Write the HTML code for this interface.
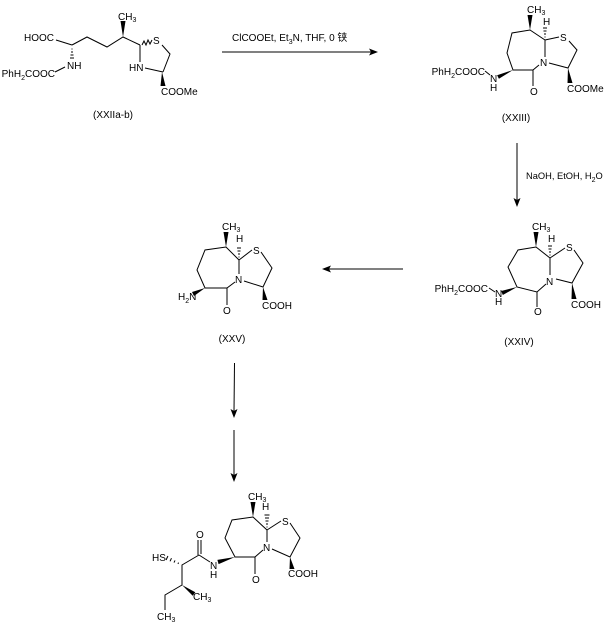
<!DOCTYPE html>
<html><head><meta charset="utf-8"><style>
html,body{margin:0;padding:0;background:#fff;}
svg{display:block;}
text{font-family:"Liberation Sans","Noto Sans CJK SC",sans-serif;font-size:10px;fill:#000;}
.s{font-size:7px;}
</style></head><body>
<svg width="610" height="629" viewBox="0 0 610 629" xmlns="http://www.w3.org/2000/svg">
<g stroke="#000" stroke-width="1" fill="none">
<!-- Top-left molecule -->
<line x1="56" y1="40" x2="72" y2="45"/>
<polyline points="72,45 87,37 107,47 123,37 140,45"/>
<line x1="55" y1="72" x2="65" y2="67"/>
<line x1="140" y1="45" x2="140" y2="62"/>
<polyline points="142,45 144,41 146,45 148,40 150,44 152,40"/>
<polyline points="162,45 170,54 163,72"/>
<line x1="145" y1="68" x2="163" y2="72"/>
<line x1="71.5" y1="49" x2="72.5" y2="49"/><line x1="71" y1="52" x2="73" y2="52"/><line x1="70.5" y1="55" x2="73.5" y2="55"/><line x1="70" y1="58" x2="74" y2="58"/>
<!-- top arrow -->
<line x1="222" y1="52" x2="372" y2="52"/>
<!-- XXIII -->
<polyline points="545,40 530,30 512,33 507,53 513,70 533,70 539,65"/>
<line x1="545" y1="40" x2="559" y2="37"/>
<polyline points="569,41 577,50 568,68 549,63"/>
<line x1="545" y1="57" x2="545" y2="40"/>
<line x1="533" y1="70" x2="533" y2="86"/>
<line x1="485" y1="71" x2="490" y2="75"/>
<line x1="544.5" y1="37" x2="545.5" y2="37"/><line x1="544" y1="34" x2="546" y2="34"/><line x1="543.5" y1="31" x2="546.5" y2="31"/><line x1="543" y1="28" x2="547" y2="28"/>
<!-- arrow down -->
<line x1="517" y1="143" x2="517" y2="201"/>
<!-- XXIV -->
<polyline points="550,258 536,247 518,250 508,267 517,287 537,292 546,284"/>
<line x1="550" y1="258" x2="565" y2="248"/>
<polyline points="574,250 583,263 572,283 556,279"/>
<line x1="550" y1="275" x2="550" y2="258"/>
<line x1="537" y1="292" x2="537" y2="307"/>
<line x1="489" y1="288" x2="495" y2="292"/>
<line x1="549.5" y1="255" x2="550.5" y2="255"/><line x1="549" y1="252" x2="551" y2="252"/><line x1="548.5" y1="249" x2="551.5" y2="249"/><line x1="548" y1="246" x2="552" y2="246"/>
<!-- horizontal arrow -->
<line x1="328" y1="269" x2="403" y2="269"/>
<!-- XXV -->
<polyline points="239,260 226,247 205,250 197,270 205,288 227,288 235,282"/>
<line x1="239" y1="260" x2="252" y2="250"/>
<polyline points="261,252 272,268 263,287 244,281"/>
<line x1="239" y1="274" x2="239" y2="260"/>
<line x1="227" y1="288" x2="227" y2="305"/>
<line x1="238.5" y1="257" x2="239.5" y2="257"/><line x1="238" y1="254" x2="240" y2="254"/><line x1="237.5" y1="251" x2="240.5" y2="251"/><line x1="237" y1="248" x2="241" y2="248"/>
<!-- vertical arrows -->
<line x1="234.5" y1="363" x2="234" y2="412"/>
<line x1="234" y1="430" x2="234" y2="476"/>
<!-- bottom molecule -->
<polyline points="267,530 253,517 232,520 225,538 235,557 255,557 263,550"/>
<line x1="267" y1="530" x2="281" y2="521"/>
<polyline points="290,523 300,538 290,557 272,549"/>
<line x1="267" y1="542" x2="267" y2="530"/>
<line x1="255" y1="557" x2="255" y2="574"/>
<line x1="266.5" y1="527" x2="267.5" y2="527"/><line x1="266" y1="524" x2="268" y2="524"/><line x1="265.5" y1="521" x2="268.5" y2="521"/><line x1="265" y1="518" x2="269" y2="518"/><line x1="264.5" y1="515" x2="269.5" y2="515"/>
<line x1="210" y1="562" x2="199" y2="555"/>
<line x1="198" y1="540" x2="198" y2="555"/>
<line x1="201" y1="540" x2="201" y2="554"/>
<polyline points="199,555 182,565 182,585 165,595 165,610"/>
<line x1="177.95" y1="563.89" x2="178.55" y2="562.61"/>
<line x1="174" y1="562.6" x2="175" y2="560.4"/>
<line x1="170.04" y1="561.3" x2="171.46" y2="558.2"/>
<line x1="166.08" y1="560" x2="167.92" y2="556"/>
</g>
<g fill="#000" stroke="none">
<!-- wedges -->
<polygon points="123,37 120.5,21 125.5,21"/>
<polygon points="162,72 160.5,86 165.5,86"/>
<polygon points="530,30 527.5,15 532.5,15"/>
<polygon points="513,70 498.9,78.8 497.1,75.2"/>
<polygon points="568,68 567.5,83 572.5,83"/>
<polygon points="536,247 533.5,232 538.5,232"/>
<polygon points="517,287 502.8,295 501.2,291"/>
<polygon points="572,283 571.5,299 576.5,299"/>
<polygon points="226,247 223.5,232 228.5,232"/>
<polygon points="205,288 194,296 192,292"/>
<polygon points="263,287 262.5,300 267.5,300"/>
<polygon points="253,517 250.5,502 255.5,502"/>
<polygon points="235,557 218.6,564.1 217.4,559.9"/>
<polygon points="290,557 289.5,569 294.5,569"/>
<polygon points="182,585 192.7,595.8 195.3,592.2"/>
<!-- arrowheads -->
<polygon points="378,52 369,48.5 371,52 369,55.5"/>
<polygon points="517,207 513.5,198 517,200 520.5,198"/>
<polygon points="322,269 331,265.5 329,269 331,272.5"/>
<polygon points="234,418 230.5,409 234,411 237.5,409"/>
<polygon points="234,482 230.5,473 234,475 237.5,473"/>
</g>

<!-- Top-left labels -->
<text x="54" y="41" text-anchor="end">HOOC</text>
<text x="67" y="69">NH</text>
<text x="55" y="77" text-anchor="end">PhH<tspan class="s" dy="3">2</tspan><tspan dy="-3">COOC</tspan></text>
<text x="118" y="20">CH<tspan class="s" dy="2">3</tspan></text>
<text x="153" y="44">S</text>
<text x="129" y="71">HN</text>
<text x="161" y="95">COOMe</text>
<text x="113" y="118" text-anchor="middle">(XXIIa-b)</text>

<!-- reagent -->
<text x="232" y="41">ClCOOEt, Et<tspan class="s" dy="3">3</tspan><tspan dy="-3">N, THF, 0 铗</tspan></text>

<!-- XXIII labels -->
<text x="527" y="13">CH<tspan class="s" dy="2">3</tspan></text>
<text x="543" y="25">H</text>
<text x="560" y="41">S</text>
<text x="540" y="66">N</text>
<text x="530" y="95">O</text>
<text x="567" y="92">COOMe</text>
<text x="485" y="75" text-anchor="end">PhH<tspan class="s" dy="3">2</tspan><tspan dy="-3">COOC</tspan></text>
<text x="490" y="82">N</text>
<text x="490" y="91">H</text>
<text x="516" y="121" text-anchor="middle">(XXIII)</text>

<text x="526" y="179" style="font-size:9.3px">NaOH, EtOH, H<tspan class="s" dy="3">2</tspan><tspan dy="-3">O</tspan></text>

<!-- XXIV labels -->
<text x="532" y="230">CH<tspan class="s" dy="2">3</tspan></text>
<text x="548" y="242">H</text>
<text x="566" y="251">S</text>
<text x="546" y="285">N</text>
<text x="534" y="315">O</text>
<text x="571" y="308">COOH</text>
<text x="488" y="292" text-anchor="end">PhH<tspan class="s" dy="3">2</tspan><tspan dy="-3">COOC</tspan></text>
<text x="495" y="297">N</text>
<text x="495" y="305">H</text>
<text x="519" y="345" text-anchor="middle">(XXIV)</text>

<!-- XXV labels -->
<text x="222" y="230">CH<tspan class="s" dy="2">3</tspan></text>
<text x="236" y="242">H</text>
<text x="253" y="254">S</text>
<text x="235" y="283">N</text>
<text x="223" y="314">O</text>
<text x="262" y="309">COOH</text>
<text x="178" y="300">H<tspan class="s" dy="3">2</tspan><tspan dy="-3">N</tspan></text>
<text x="232" y="342" text-anchor="middle">(XXV)</text>

<!-- bottom labels -->
<text x="248" y="500">CH<tspan class="s" dy="2">3</tspan></text>
<text x="262" y="510">H</text>
<text x="282" y="525">S</text>
<text x="263" y="551">N</text>
<text x="252" y="583">O</text>
<text x="288" y="577">COOH</text>
<text x="210" y="569">N</text>
<text x="210" y="578">H</text>
<text x="196" y="538">O</text>
<text x="152" y="561">HS</text>
<text x="193" y="600">CH<tspan class="s" dy="2">3</tspan></text>
<text x="157" y="620">CH<tspan class="s" dy="2">3</tspan></text>
</svg>
</body></html>
